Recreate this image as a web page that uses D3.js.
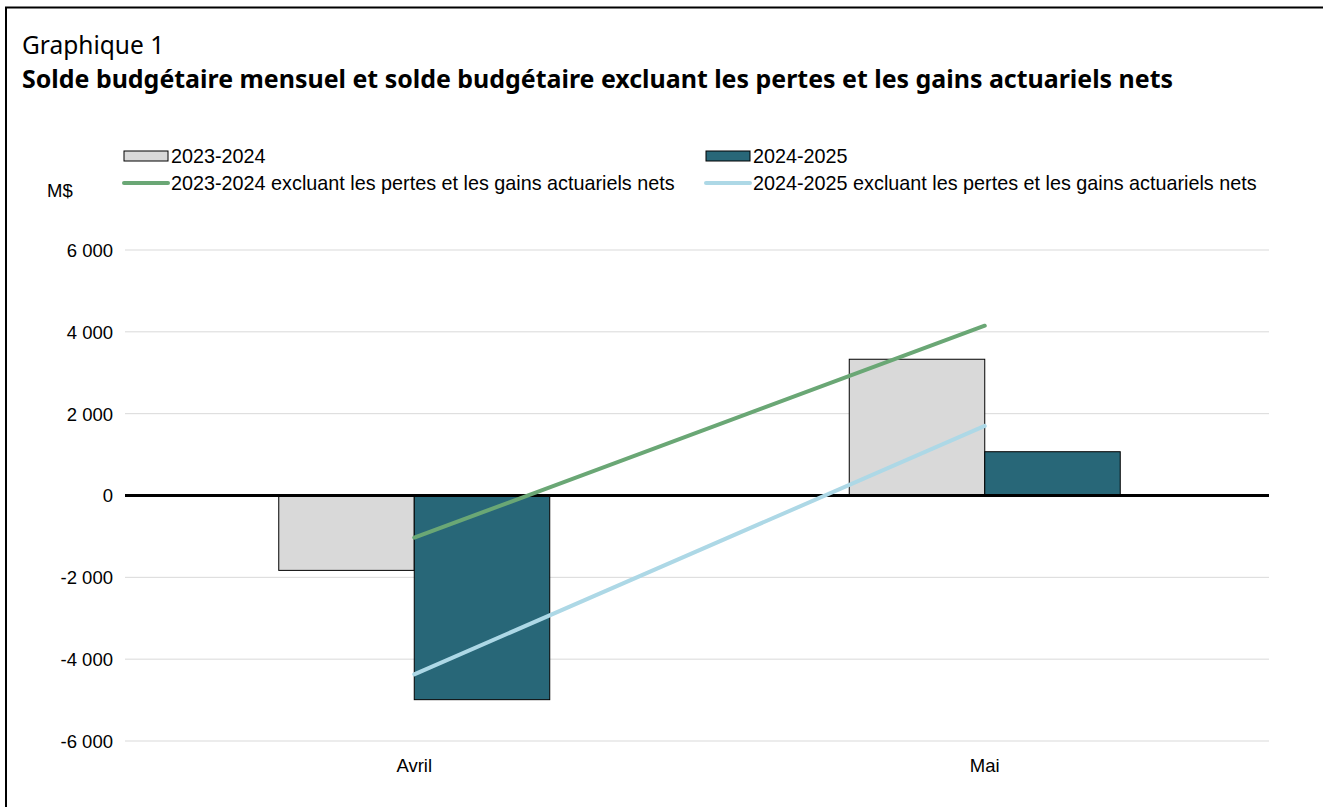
<!DOCTYPE html>
<html><head><meta charset="utf-8">
<script src="https://cdn.jsdelivr.net/npm/d3@7"></script>
<style>body{margin:0;background:#fff}svg{display:block}</style>
</head><body>
<svg id="c" width="1323" height="807"></svg>
<script>
const categories = ["Avril", "Mai"];
const barSeries = ["2023-2024", "2024-2025"];
const bars2023 = [-1830, 3330];
const bars2024 = [-4990, 1070];
const lineSeries = ["2023-2024 excluant les pertes et les gains actuariels nets", "2024-2025 excluant les pertes et les gains actuariels nets"];
const line2023 = [-1030, 4150];
const line2024 = [-4370, 1700];
const yTicks = [-6000, -4000, -2000, 0, 2000, 4000, 6000];

const svg = d3.select("#c");
const fmt = v => d3.format(",")(v).replace(/,/g, " ").replace("\u2212", "-");

svg.append("rect").attr("x", 6).attr("y", 7.5).attr("width", 1330).attr("height", 820)
  .attr("fill", "none").attr("stroke", "#000").attr("stroke-width", 2);

svg.append("text").attr("x", 22).attr("y", 54).attr("font-family", "Noto Sans, Open Sans, sans-serif")
  .attr("font-size", 24.5).attr("fill", "#000").text("Graphique 1");
svg.append("text").attr("x", 22).attr("y", 88).attr("font-family", "Noto Sans, Open Sans, sans-serif")
  .attr("font-size", 24.95).attr("font-weight", "bold").attr("fill", "#000")
  .text("Solde budgétaire mensuel et solde budgétaire excluant les pertes et les gains actuariels nets");

const x0 = d3.scaleBand().domain(categories).range([129, 1270]);
const y = d3.scaleLinear().domain([-6000, 6000]).range([741, 250]);
const groupW = x0.bandwidth() * 0.475;
const x1 = d3.scaleBand().domain(barSeries).range([0, groupW]);
const barColors = {"2023-2024": "#d9d9d9", "2024-2025": "#286778"};
const lineColors = ["#6aa775", "#add8e6"];

const yAxis = d3.axisLeft(y).tickValues(yTicks).tickSize(0).tickPadding(0).tickFormat(fmt);
const gy = svg.append("g").attr("transform", "translate(113,0)").call(yAxis);
gy.select(".domain").remove();
gy.selectAll("text").attr("font-family", "Liberation Sans, Arial, sans-serif").attr("font-size", 18.5).attr("fill", "#000").attr("dy", "0.35em");

svg.append("g").selectAll("line").data(yTicks.filter(d => d !== 0)).join("line")
  .attr("x1", 125).attr("x2", 1269).attr("y1", d => y(d)).attr("y2", d => y(d))
  .attr("stroke", "#d9d9d9").attr("stroke-width", 1);

svg.append("text").attr("x", 47).attr("y", 197).attr("font-family", "Liberation Sans, Arial, sans-serif")
  .attr("font-size", 18.5).attr("fill", "#000").text("M$");

const barData = [];
categories.forEach((c, i) => {
  barData.push({c, s: barSeries[0], v: bars2023[i]});
  barData.push({c, s: barSeries[1], v: bars2024[i]});
});
svg.append("g").selectAll("rect").data(barData).join("rect")
  .attr("x", d => x0(d.c) + x0.bandwidth() / 2 - groupW / 2 + x1(d.s))
  .attr("width", x1.bandwidth())
  .attr("y", d => y(Math.max(0, d.v)))
  .attr("height", d => Math.abs(y(d.v) - y(0)))
  .attr("fill", d => barColors[d.s]).attr("stroke", "#000").attr("stroke-width", 1);

svg.append("line").attr("x1", 125).attr("x2", 1269).attr("y1", y(0)).attr("y2", y(0))
  .attr("stroke", "#000").attr("stroke-width", 3);

const lineGen = d3.line().x((d, i) => x0(categories[i]) + x0.bandwidth() / 2).y(d => y(d));
[line2023, line2024].forEach((arr, k) => {
  svg.append("path").attr("d", lineGen(arr)).attr("fill", "none")
    .attr("stroke", lineColors[k]).attr("stroke-width", 4).attr("stroke-linecap", "round");
});

const xAxis = d3.axisBottom(x0).tickSize(0).tickPadding(0);
const gx = svg.append("g").attr("transform", "translate(0,759)").call(xAxis);
gx.select(".domain").remove();
gx.selectAll("text").attr("font-family", "Liberation Sans, Arial, sans-serif").attr("font-size", 18.5).attr("fill", "#000").attr("dy", "0.71em");

// legend
const lg = svg.append("g").attr("font-family", "Liberation Sans, Arial, sans-serif").attr("font-size", 19.8).attr("fill", "#000");
const legX = [124, 706];
barSeries.forEach((s, i) => {
  lg.append("rect").attr("x", legX[i]).attr("y", 151).attr("width", 44).attr("height", 10)
    .attr("fill", barColors[s]).attr("stroke", "#000").attr("stroke-width", 1);
  lg.append("text").attr("x", legX[i] + 47).attr("y", 163).text(s);
});
lineSeries.forEach((s, i) => {
  lg.append("line").attr("x1", legX[i]).attr("x2", legX[i] + 44).attr("y1", 183).attr("y2", 183)
    .attr("stroke", lineColors[i]).attr("stroke-width", 4).attr("stroke-linecap", "round");
  lg.append("text").attr("x", legX[i] + 47).attr("y", 190).text(s);
});
</script>
</body></html>
